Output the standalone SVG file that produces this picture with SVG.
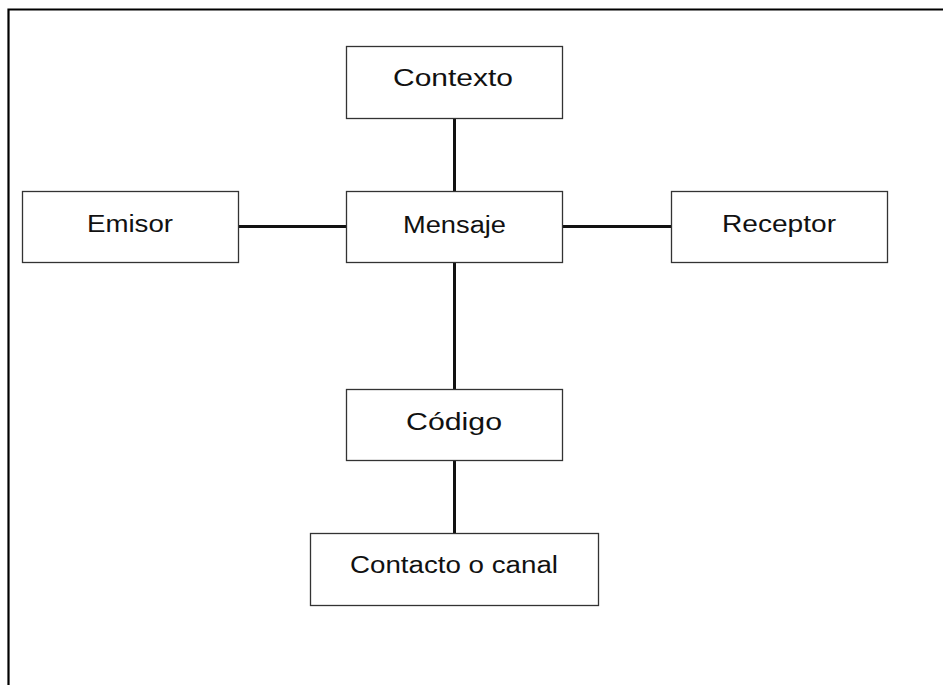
<svg xmlns="http://www.w3.org/2000/svg" width="943" height="685" viewBox="0 0 943 685">
<style>
.box{fill:#fff;stroke:#333;stroke-width:1.3}
.lbl{font-family:"Liberation Sans",Arial,sans-serif;font-size:23px;fill:#111;text-anchor:start}
.con{stroke:#111;stroke-width:3;fill:none}
.frame{stroke:#000;stroke-width:2.2;fill:none}
</style>
<rect width="943" height="685" fill="#fff"/>
<path class="frame" d="M8.5 690 V9.5 H950"/>
<g id="connectors">
<line class="con" x1="454.5" y1="119" x2="454.5" y2="191"/>
<line class="con" x1="238" y1="226.5" x2="346" y2="226.5"/>
<line class="con" x1="563" y1="226.5" x2="671" y2="226.5"/>
<line class="con" x1="454.5" y1="263" x2="454.5" y2="389"/>
<line class="con" x1="454.5" y1="461" x2="454.5" y2="533"/>
</g>
<g id="contexto">
<rect class="box" x="346.5" y="46.5" width="216" height="72"/>
<text class="lbl" x="393" y="86" textLength="120" lengthAdjust="spacingAndGlyphs">Contexto</text>
</g>
<g id="emisor">
<rect class="box" x="22.5" y="191.5" width="216" height="71"/>
<text class="lbl" x="87" y="232" textLength="86" lengthAdjust="spacingAndGlyphs">Emisor</text>
</g>
<g id="mensaje">
<rect class="box" x="346.5" y="191.5" width="216" height="71"/>
<text class="lbl" x="403" y="233" textLength="103" lengthAdjust="spacingAndGlyphs">Mensaje</text>
</g>
<g id="receptor">
<rect class="box" x="671.5" y="191.5" width="216" height="71"/>
<text class="lbl" x="722" y="232" textLength="114" lengthAdjust="spacingAndGlyphs">Receptor</text>
</g>
<g id="codigo">
<rect class="box" x="346.5" y="389.5" width="216" height="71"/>
<text class="lbl" x="406" y="430" textLength="96" lengthAdjust="spacingAndGlyphs">Código</text>
</g>
<g id="contacto">
<rect class="box" x="310.5" y="533.5" width="288" height="72"/>
<text class="lbl" x="350" y="573" textLength="208" lengthAdjust="spacingAndGlyphs">Contacto o canal</text>
</g>
</svg>
